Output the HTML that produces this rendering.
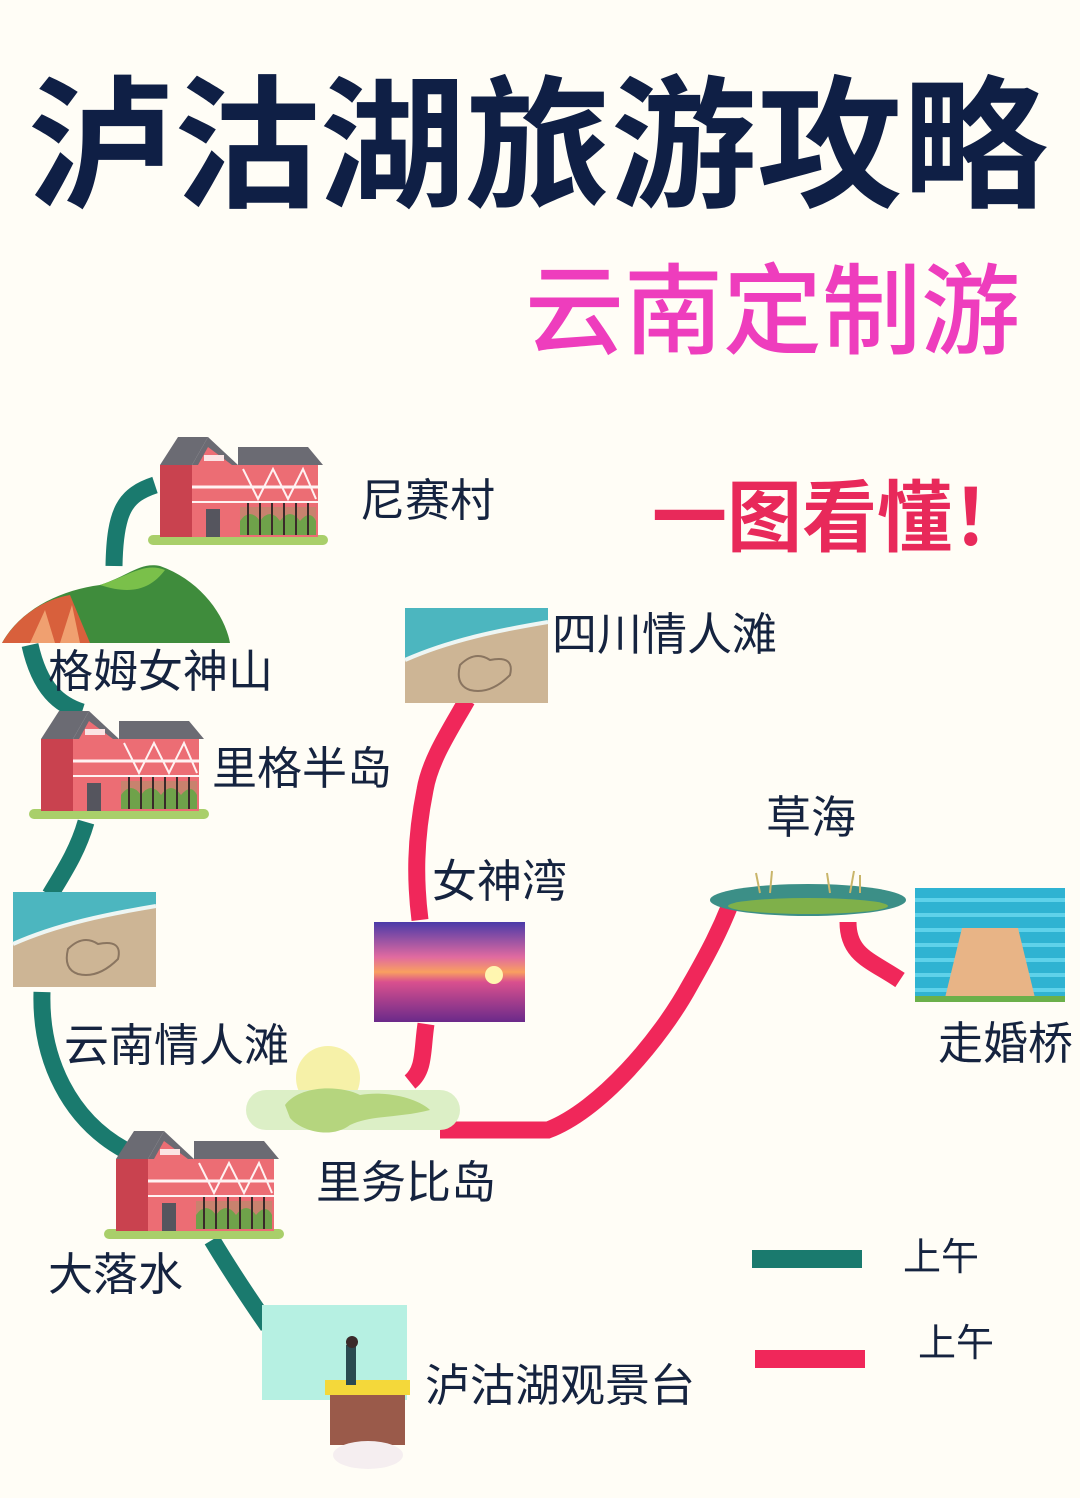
<!DOCTYPE html>
<html><head><meta charset="utf-8"><style>
html,body{margin:0;padding:0;background:#fffdf6;}
svg{display:block}
text{font-family:"Liberation Sans","Noto Sans CJK SC",sans-serif;}
</style></head><body>
<svg width="1080" height="1498" viewBox="0 0 1080 1498" xmlns="http://www.w3.org/2000/svg">
<defs>
<g id="house">
  <rect x="0" y="98" width="180" height="10" rx="5" fill="#a9cf6a"/>
  <rect x="12" y="28" width="32" height="72" fill="#c9424f"/>
  <polygon points="12,28 30,0 60,0 44,28" fill="#6b6b73"/>
  <polygon points="44,28 60,0 90,28" fill="#6b6b73"/>
  <rect x="44" y="28" width="46" height="72" fill="#ec6d74"/>
  <polygon points="50,28 60,10 84,28" fill="#ec6d74"/>
  <rect x="56" y="18" width="20" height="6" fill="#fbe3e3"/>
  <rect x="90" y="28" width="80" height="72" fill="#ec6d74"/>
  <polygon points="90,28 90,10 160,10 175,28" fill="#6b6b73"/>
  <line x1="44" y1="50" x2="170" y2="50" stroke="#fff2f2" stroke-width="3"/>
  <line x1="44" y1="65" x2="170" y2="65" stroke="#fff2f2" stroke-width="2"/>
  <path d="M95,32 L110,62 L125,32 L140,62 L155,32 L168,62" stroke="#fff2f2" stroke-width="2" fill="none"/>
  <rect x="58" y="72" width="14" height="28" fill="#55555e"/>
  <rect x="92" y="70" width="76" height="28" fill="#c8826e"/>
  <path d="M92,84 q10,-14 20,0 q10,-14 20,0 q10,-14 20,0 q10,-12 16,0 v14 h-76z" fill="#6fa24a"/>
  <path d="M100,66v32M112,66v32M124,66v32M136,66v32M148,66v32M160,66v32" stroke="#3a2a2a" stroke-width="2"/>
</g>
</defs>

<text x="28" y="0" font-size="128" font-weight="700" fill="#0f1f45" transform="translate(0,196) scale(1,1.12)" textLength="1020" lengthAdjust="spacingAndGlyphs">泸沽湖旅游攻略</text>
<text x="525" y="346" font-size="99" font-weight="500" fill="#ee3dbd" textLength="495" lengthAdjust="spacingAndGlyphs">云南定制游</text>
<text x="652" y="545" font-size="78" font-weight="700" fill="#e8295a" textLength="375" lengthAdjust="spacingAndGlyphs">一图看懂！</text>

<g stroke="#1a7a6e" stroke-width="17" fill="none" stroke-linecap="butt">
  <path d="M155,485 C125,495 115,510 114,566"/>
  <path d="M30,645 C40,690 60,705 82,712"/>
  <path d="M86,822 C78,850 65,870 50,895"/>
  <path d="M42,992 C40,1060 70,1120 125,1150"/>
  <path d="M212,1240 C230,1270 250,1300 268,1326"/>
</g>
<g stroke="#f0275a" stroke-width="17" fill="none">
  <path d="M467,700 C450,730 430,760 425,790 C415,840 415,880 420,920"/>
  <path d="M426,1024 C422,1050 425,1070 410,1082"/>
  <path d="M440,1130 L548,1130 C600,1110 660,1040 690,985 C710,950 720,930 730,905"/>
  <path d="M848,922 C848,955 870,960 900,980"/>
</g>

<use href="#house" x="148" y="437"/>
<use href="#house" x="29" y="711"/>
<use href="#house" x="104" y="1131"/>

<path d="M2,643 C20,610 60,590 100,585 C130,575 140,562 160,566 C200,580 225,615 230,643 Z" fill="#3f8c3c"/>
<path d="M100,585 C130,575 145,562 165,570 C150,590 130,595 100,585Z" fill="#7ac04a"/>
<path d="M2,643 C15,620 40,600 70,595 L90,643Z" fill="#d8603c"/>
<path d="M30,643 L45,610 L55,643ZM60,643 L72,605 L80,643Z" fill="#f0a070"/>

<g>
  <rect x="405" y="608" width="143" height="95" fill="#cdb595"/>
  <path d="M405,608 h143 v14 C500,630 450,640 405,660Z" fill="#4cb6bf"/>
  <path d="M405,660 C450,640 500,630 548,622" stroke="#eef6f4" stroke-width="4" fill="none"/>
  <path d="M460,665 q15,-15 30,-5 q25,-5 20,15 q-20,20 -40,15 q-15,-5 -10,-25z" stroke="#8a7560" stroke-width="2" fill="none"/>
</g>
<g>
  <rect x="13" y="892" width="143" height="95" fill="#cdb595"/>
  <path d="M13,892 h143 v14 C108,914 58,924 13,944Z" fill="#4cb6bf"/>
  <path d="M13,944 C58,924 108,914 156,906" stroke="#eef6f4" stroke-width="4" fill="none"/>
  <path d="M68,949 q15,-15 30,-5 q25,-5 20,15 q-20,20 -40,15 q-15,-5 -10,-25z" stroke="#8a7560" stroke-width="2" fill="none"/>
</g>

<defs><linearGradient id="sun" x1="0" y1="0" x2="0" y2="1">
<stop offset="0" stop-color="#4a3aa8"/><stop offset="0.35" stop-color="#e06aa0"/><stop offset="0.5" stop-color="#f9a060"/><stop offset="0.6" stop-color="#d9508e"/><stop offset="1" stop-color="#6a2a8a"/></linearGradient></defs>
<rect x="374" y="922" width="151" height="100" fill="url(#sun)"/>
<circle cx="494" cy="975" r="9" fill="#fff6b0"/>

<circle cx="328" cy="1078" r="32" fill="#f6f1a8"/>
<rect x="246" y="1090" width="214" height="40" rx="20" fill="#dcefc6"/>
<path d="M285,1105 C300,1085 340,1085 360,1095 C390,1090 420,1100 430,1110 C400,1118 370,1115 350,1125 C330,1140 300,1130 290,1118Z" fill="#b5d57e"/>

<ellipse cx="808" cy="900" rx="98" ry="16" fill="#3c8f87"/>
<ellipse cx="808" cy="906" rx="80" ry="8" fill="#7fb04a"/>
<path d="M760,893 l-4,-20 M770,893 l2,-22 M830,893 l-3,-20 M850,893 l4,-22 M860,893 l0,-18" stroke="#c9b56a" stroke-width="2"/>

<rect x="915" y="888" width="150" height="114" fill="#2fb3d2"/>
<path d="M915,900 h150 M915,915 h150 M915,930 h150 M915,945 h150 M915,960 h150 M915,975 h150 M915,990 h150" stroke="#5fd2ea" stroke-width="4"/>
<polygon points="962,928 1018,928 1036,1002 944,1002" fill="#e8b486"/>
<rect x="915" y="996" width="150" height="6" fill="#6bb04a"/>

<rect x="262" y="1305" width="145" height="95" fill="#b6f0e2"/>
<rect x="325" y="1380" width="85" height="15" fill="#f4d83a"/>
<rect x="330" y="1395" width="75" height="50" fill="#9a5a4a"/>
<ellipse cx="368" cy="1455" rx="35" ry="14" fill="#f5eef0"/>
<rect x="346" y="1345" width="10" height="40" fill="#2a4a50"/>
<circle cx="352" cy="1342" r="6" fill="#3a2a2a"/>

<g font-size="45" fill="#15233f">
<text x="360" y="516">尼赛村</text>
<text x="48" y="687">格姆女神山</text>
<text x="212" y="784">里格半岛</text>
<text x="552" y="650">四川情人滩</text>
<text x="766" y="833">草海</text>
<text x="432" y="897">女神湾</text>
<text x="938" y="1059">走婚桥</text>
<text x="64" y="1061">云南情人滩</text>
<text x="316" y="1198">里务比岛</text>
<text x="48" y="1290">大落水</text>
<text x="425" y="1401">泸沽湖观景台</text>
</g>
<g font-size="38" fill="#15233f">
<text x="903" y="1270">上午</text>
<text x="918" y="1356">上午</text>
</g>
<rect x="752" y="1250" width="110" height="18" fill="#1a7a6e"/>
<rect x="755" y="1350" width="110" height="18" fill="#f0275a"/>
</svg>
</body></html>
